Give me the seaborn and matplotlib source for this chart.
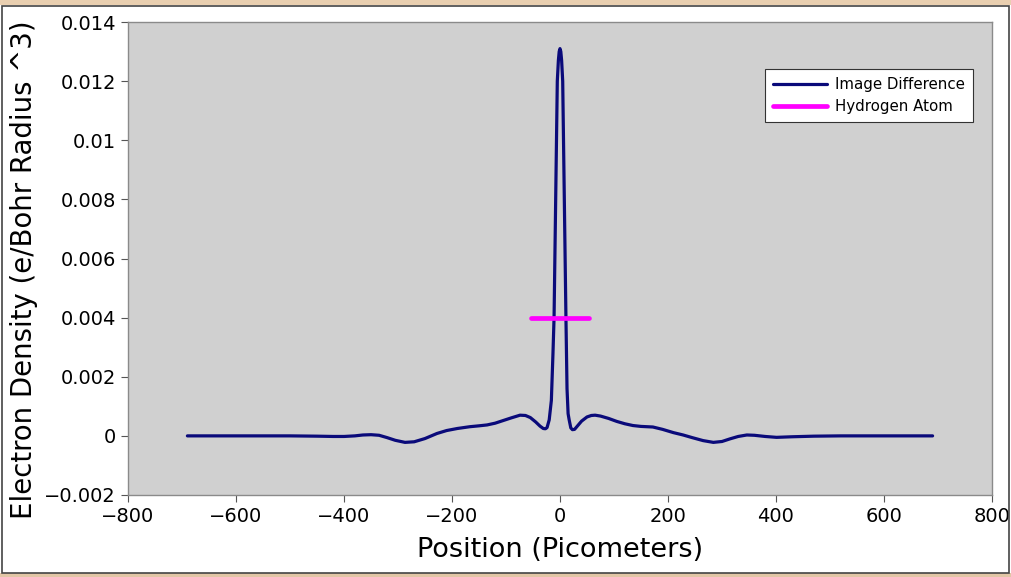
import matplotlib
matplotlib.use("Agg")
import matplotlib.pyplot as plt
import matplotlib.patches as mpatches
import seaborn as sns
import pandas as pd

# ---- data ----
position_pm = [-690, -600, -500, -450, -420, -400, -380, -365, -350, -335, -320, -305, -287,
               -270, -250, -228, -210, -190, -167, -150, -135, -120, -105, -90, -74, -64,
               -55, -45, -37, -31, -27, -24, -20, -16, -13, -11, -8, -5, -3, -1.5, 0, 1.5,
               3, 5, 8, 11, 13, 15, 17, 20, 23, 27, 33, 40, 50, 58, 65, 75, 90, 105, 120,
               135, 150, 172, 190, 210, 228, 245, 265, 284, 300, 315, 330, 346, 360, 380,
               401, 430, 470, 520, 600, 690]
density = [0.0, 0.0, 0.0, -0.00001, -0.00002, -0.00002, 0.0, 0.00003, 0.00004, 0.00002,
           -0.00006, -0.00015, -0.00022, -0.0002, -0.00009, 0.00008, 0.00018, 0.00025,
           0.00031, 0.00034, 0.00037, 0.00043, 0.00052, 0.00061, 0.0007, 0.00069, 0.00062,
           0.00047, 0.00033, 0.00025, 0.00024, 0.00028, 0.00054, 0.0012, 0.0028, 0.004,
           0.008, 0.012, 0.0127, 0.013, 0.0131, 0.013, 0.0127, 0.012, 0.008, 0.004, 0.0016,
           0.00075, 0.00054, 0.00027, 0.00021, 0.00022, 0.00035, 0.0005, 0.00064, 0.00069,
           0.0007, 0.00067, 0.00059, 0.00049, 0.00041, 0.00035, 0.00032, 0.0003, 0.00022,
           0.00011, 0.00003, -0.00006, -0.00016, -0.00022, -0.00019, -0.0001, -0.00002,
           0.00003, 0.00002, -0.00002, -0.00005, -0.00003, -0.00001, 0.0, 0.0, 0.0]
hydrogen_x = [-54, 54]
hydrogen_y = [0.004, 0.004]

x_ticks = [-800, -600, -400, -200, 0, 200, 400, 600, 800]
x_tick_labels = ["\u2212800", "\u2212600", "\u2212400", "\u2212200", "0", "200", "400", "600", "800"]
y_ticks = [-0.002, 0.0, 0.002, 0.004, 0.006, 0.008, 0.01, 0.012, 0.014]
y_tick_labels = ["\u22120.002", "0", "0.002", "0.004", "0.006", "0.008", "0.01", "0.012", "0.014"]

diff_df = pd.DataFrame({"Position": position_pm, "Density": density})
h_df = pd.DataFrame({"Position": hydrogen_x, "Density": hydrogen_y})

sns.set_style("ticks")
plt.rcParams["font.family"] = ["DejaVu Sans"]

fig = plt.figure(figsize=(10.11, 5.77), dpi=100)
fig.patch.set_facecolor("white")
W, H = 1011, 577
# framing of the reference screenshot
fig.patches.append(mpatches.Rectangle((0, 1 - 5 / H), 1, 5 / H, transform=fig.transFigure,
                                      facecolor="#e9cfb0", edgecolor="none", zorder=0))
fig.patches.append(mpatches.Rectangle((0, 0), 1, 4 / H, transform=fig.transFigure,
                                      facecolor="#e2c6a6", edgecolor="none", zorder=0))
fig.patches.append(mpatches.Rectangle((1.5 / W, 4 / H), 1 - 3.5 / W, 1 - 9.5 / H,
                                      transform=fig.transFigure, facecolor="none",
                                      edgecolor="#444444", linewidth=1.2, zorder=1))

ax = fig.add_axes([128 / W, (577 - 495) / H, 864 / W, 473 / H])
ax.set_facecolor("#d0d0d0")

sns.lineplot(data=diff_df, x="Position", y="Density", ax=ax, sort=False, estimator=None,
             color="#0a0a7a", linewidth=2.3, label="Image Difference")
sns.lineplot(data=h_df, x="Position", y="Density", ax=ax, sort=False, estimator=None,
             color="#ff00ff", linewidth=3.4, label="Hydrogen Atom")

ax.set_xlim(-800, 800)
ax.set_ylim(-0.002, 0.014)
ax.set_xticks(x_ticks)
ax.set_xticklabels(x_tick_labels)
ax.set_yticks(y_ticks)
ax.set_yticklabels(y_tick_labels)
ax.tick_params(axis="both", labelsize=14, length=5, width=0.8, color="#555555",
               labelcolor="black", direction="out")
ax.set_xlabel("Position (Picometers)", fontsize=19.5, labelpad=8, color="black")
ax.set_ylabel("Electron Density (e/Bohr Radius ^3)", fontsize=19.8, color="black")
ax.yaxis.set_label_coords(-0.104, 0.476)

for s in ax.spines.values():
    s.set_color("#8a8a8a")
    s.set_linewidth(1.0)

leg = ax.legend(loc="upper right", bbox_to_anchor=(973 / W, (577 - 69) / H),
                bbox_transform=fig.transFigure, fontsize=10.8, frameon=True, fancybox=False,
                framealpha=1, edgecolor="#333333", handlelength=3.6, handletextpad=0.5,
                borderpad=0.55, labelspacing=0.45, borderaxespad=0)
leg.get_frame().set_linewidth(0.8)
for t in leg.get_texts():
    t.set_color("black")

fig.savefig("out.png", dpi=100, facecolor=fig.get_facecolor())
